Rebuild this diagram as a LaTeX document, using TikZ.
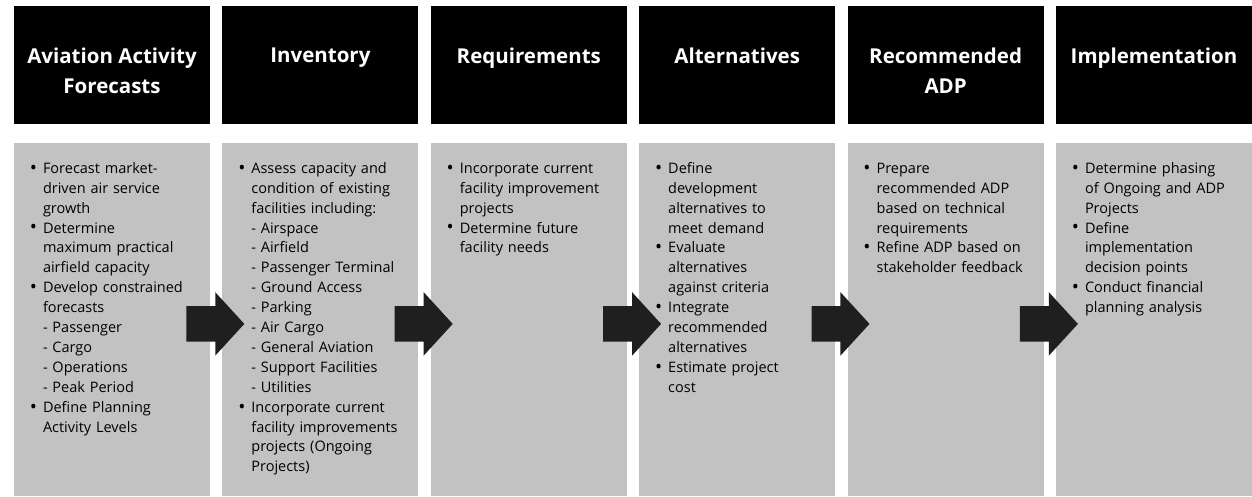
\documentclass[tikz,border=0pt]{standalone}
\usepackage{fontspec}
\setmainfont{Open Sans}
\usetikzlibrary{positioning,calc,shapes.arrows}

\newcommand{\bigbullet}{\raisebox{-0.12ex}{\fontsize{19}{19}\selectfont\textbullet}}
\newenvironment{bulletlist}{%
  \begin{list}{\bigbullet}{%
    \setlength{\leftmargin}{29pt}%
    \setlength{\labelwidth}{20pt}%
    \setlength{\labelsep}{6pt}%
    \setlength{\itemsep}{0pt}%
    \setlength{\parsep}{0pt}%
    \setlength{\topsep}{0pt}%
    \setlength{\partopsep}{0pt}}}%
  {\end{list}}

\tikzset{
  hdrbox/.style={fill=black, minimum width=196pt, minimum height=118pt, inner sep=0pt},
  hdrtext/.style={anchor=north, align=center, text=white, inner sep=0pt,
    font=\bfseries\fontsize{20.5}{30}\selectfont},
  panelbox/.style={fill=black!24, minimum width=196pt, minimum height=353pt, inner sep=0pt},
  bodytext/.style={anchor=north west, inner sep=0pt, text width=190pt, align=left,
    font=\fontsize{14.5}{19.9}\selectfont},
  blockarrow/.style={single arrow, fill=black!88, minimum height=58pt,
    inner xsep=0pt, inner ysep=17.5pt,
    single arrow head extend=14pt, single arrow tip angle=95}
}

\begin{document}
\begin{tikzpicture}
\useasboundingbox[fill=white] (0pt,0pt) rectangle (1252pt,-496pt);

% headers
\node[hdrbox] (h1) at (112pt,-65pt) {};
\node[hdrbox, right=12pt of h1] (h2) {};
\node[hdrbox, right=12pt of h2] (h3) {};
\node[hdrbox, right=12pt of h3] (h4) {};
\node[hdrbox, right=12pt of h4] (h5) {};
\node[hdrbox, right=12pt of h5] (h6) {};

\node[hdrtext] (t1) at ([yshift=-42pt]h1.north) {Aviation Activity\\Forecasts};
\node[hdrtext] (t2) at ([yshift=-42pt]h2.north) {Inventory};
\node[hdrtext] (t3) at ([yshift=-42pt]h3.north) {Requirements};
\node[hdrtext] (t4) at ([yshift=-42pt]h4.north) {Alternatives};
\node[hdrtext] (t5) at ([yshift=-42pt]h5.north) {Recommended\\ADP};
\node[hdrtext] (t6) at ([yshift=-42pt]h6.north) {Implementation};

% panels
\node[panelbox, below=19pt of h1] (p1) {};
\node[panelbox, below=19pt of h2] (p2) {};
\node[panelbox, below=19pt of h3] (p3) {};
\node[panelbox, below=19pt of h4] (p4) {};
\node[panelbox, below=19pt of h5] (p5) {};
\node[panelbox, below=19pt of h6] (p6) {};

\node[bodytext] (b1) at ([yshift=-10pt]p1.north west) {\begin{bulletlist}
  \item Forecast market-\\driven air service\\growth
  \item Determine\\maximum practical\\airfield capacity
  \item Develop constrained\\forecasts\\- Passenger\\- Cargo\\- Operations\\- Peak Period
  \item Define Planning\\Activity Levels
\end{bulletlist}};
\node[bodytext] (b2) at ([yshift=-10pt]p2.north west) {\begin{bulletlist}
  \item Assess capacity and\\condition of existing\\facilities including:\\- Airspace\\- Airfield\\- Passenger Terminal\\- Ground Access\\- Parking\\- Air Cargo\\- General Aviation\\- Support Facilities\\- Utilities
  \item Incorporate current\\facility improvements\\projects (Ongoing\\Projects)
\end{bulletlist}};
\node[bodytext] (b3) at ([yshift=-10pt]p3.north west) {\begin{bulletlist}
  \item Incorporate current\\facility improvement\\projects
  \item Determine future\\facility needs
\end{bulletlist}};
\node[bodytext] (b4) at ([yshift=-10pt]p4.north west) {\begin{bulletlist}
  \item Define\\development\\alternatives to\\meet demand
  \item Evaluate\\alternatives\\against criteria
  \item Integrate\\recommended\\alternatives
  \item Estimate project\\cost
\end{bulletlist}};
\node[bodytext] (b5) at ([yshift=-10pt]p5.north west) {\begin{bulletlist}
  \item Prepare\\recommended ADP\\based on technical\\requirements
  \item Refine ADP based on\\stakeholder feedback
\end{bulletlist}};
\node[bodytext] (b6) at ([yshift=-10pt]p6.north west) {\begin{bulletlist}
  \item Determine phasing\\of Ongoing and ADP\\Projects
  \item Define\\implementation\\decision points
  \item Conduct financial\\planning analysis
\end{bulletlist}};

% arrows between panels
\node[blockarrow] (a1) at ([xshift=-9pt,yshift=-4pt]$(p1.east)!0.5!(p2.west)$) {};
\node[blockarrow] (a2) at ([xshift=-9pt,yshift=-4pt]$(p2.east)!0.5!(p3.west)$) {};
\node[blockarrow] (a3) at ([xshift=-9pt,yshift=-4pt]$(p3.east)!0.5!(p4.west)$) {};
\node[blockarrow] (a4) at ([xshift=-9pt,yshift=-4pt]$(p4.east)!0.5!(p5.west)$) {};
\node[blockarrow] (a5) at ([xshift=-9pt,yshift=-4pt]$(p5.east)!0.5!(p6.west)$) {};
\end{tikzpicture}
\end{document}
